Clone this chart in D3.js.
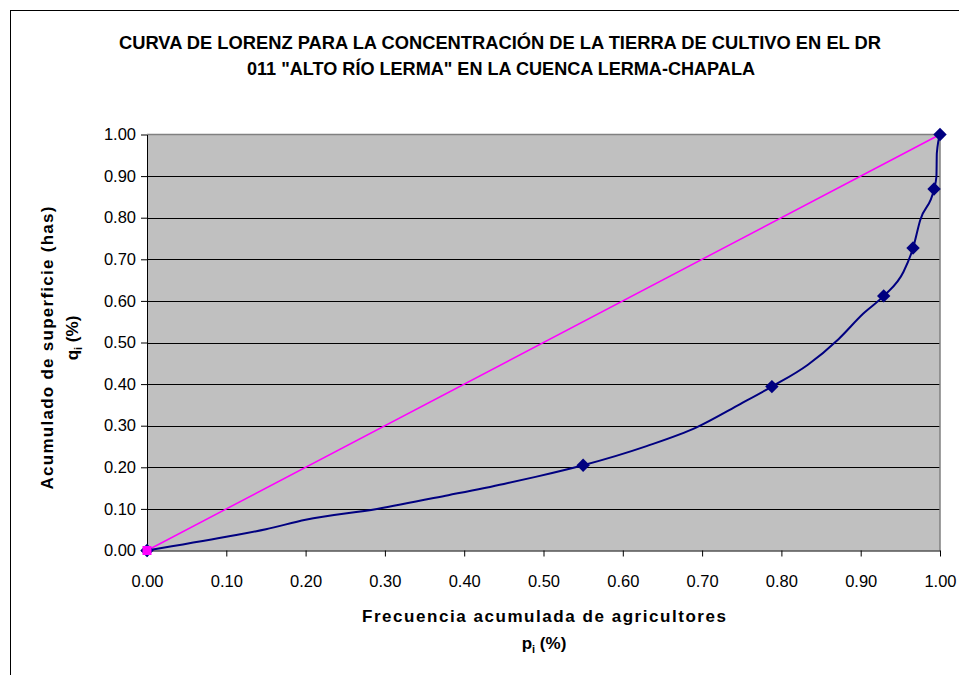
<!DOCTYPE html>
<html>
<head>
<meta charset="utf-8">
<script src="https://cdn.jsdelivr.net/npm/d3@7"></script>
<style>
  html, body { margin: 0; padding: 0; background: #fff; }
  svg { display: block; font-family: "Liberation Sans", Arial, sans-serif; }
</style>
</head>
<body>
<svg id="chart" width="959" height="675"></svg>
<script>
// Lorenz curve: cumulative share of farmers (p) vs cumulative share of land (q)
const curveP = [0, 0.10, 0.15, 0.20, 0.29, 0.38, 0.45, 0.49, 0.55, 0.63, 0.693, 0.748, 0.788, 0.833, 0.872, 0.903, 0.929, 0.954, 0.966, 0.975, 0.9925, 0.9955, 0.996, 1];
const curveQ = [0, 0.033, 0.051, 0.074, 0.10, 0.133, 0.16, 0.177, 0.205, 0.251, 0.296, 0.352, 0.394, 0.446, 0.508, 0.569, 0.612, 0.670, 0.727, 0.794, 0.869, 0.899, 0.955, 1];

// Points shown with a marker on the curve
const markerP = [0, 0.55, 0.788, 0.929, 0.966, 0.9925, 1];
const markerQ = [0, 0.205, 0.394, 0.612, 0.727, 0.869, 1];

// Line of perfect equality
const equalityP = [0, 1];
const equalityQ = [0, 1];

const tickValues = [0, 0.1, 0.2, 0.3, 0.4, 0.5, 0.6, 0.7, 0.8, 0.9, 1.0];

const titleLines = [
  "CURVA DE LORENZ PARA LA CONCENTRACIÓN DE LA TIERRA DE CULTIVO EN EL DR",
  "011 \"ALTO RÍO LERMA\" EN LA CUENCA LERMA-CHAPALA"
];

const svg = d3.select("#chart");

// outer chart frame
svg.append("rect")
  .attr("x", 10.5).attr("y", 10.5)
  .attr("width", 970).attr("height", 700)
  .attr("fill", "#fff").attr("stroke", "#000").attr("stroke-width", 1);

const plot = { left: 147, right: 940, top: 134.5, bottom: 550.5 };

const x = d3.scaleLinear().domain([0, 1]).range([plot.left, plot.right]);
const y = d3.scaleLinear().domain([0, 1]).range([plot.bottom, plot.top]);

// plot area background
svg.append("rect")
  .attr("x", plot.left).attr("y", plot.top)
  .attr("width", plot.right - plot.left).attr("height", plot.bottom - plot.top)
  .attr("fill", "#C0C0C0");

// horizontal gridlines
svg.append("g")
  .selectAll("line")
  .data(tickValues.filter(v => v > 0 && v < 1))
  .join("line")
  .attr("x1", plot.left).attr("x2", plot.right)
  .attr("y1", d => Math.round(y(d)) + 0.5).attr("y2", d => Math.round(y(d)) + 0.5)
  .attr("stroke", "#000").attr("stroke-width", 1);

// plot area border (top and right)
svg.append("path")
  .attr("d", `M${plot.left},${plot.top} H${plot.right} V${plot.bottom}`)
  .attr("fill", "none").attr("stroke", "#808080").attr("stroke-width", 1.5);

// axes
const fmt = d3.format(".2f");
const xAxis = svg.append("g")
  .attr("transform", `translate(0,${plot.bottom})`)
  .call(d3.axisBottom(x).tickValues(tickValues).tickFormat(fmt).tickSizeInner(6).tickSizeOuter(0));
const yAxis = svg.append("g")
  .attr("transform", `translate(${plot.left},0)`)
  .call(d3.axisLeft(y).tickValues(tickValues).tickFormat(fmt).tickSizeInner(6).tickSizeOuter(0).tickPadding(5));

[xAxis, yAxis].forEach(g => {
  g.select(".domain").attr("stroke", "#000").attr("stroke-width", 1);
  g.selectAll(".tick line").attr("stroke", "#000");
  g.selectAll(".tick text")
    .attr("font-family", "'Liberation Sans', Arial, sans-serif")
    .attr("font-size", 16.5).attr("fill", "#000");
});
xAxis.selectAll(".tick text").attr("dy", "0.35em").attr("y", 31);

// line of equality
svg.append("path")
  .datum(equalityP.map((p, i) => [p, equalityQ[i]]))
  .attr("d", d3.line().x(d => x(d[0])).y(d => y(d[1])))
  .attr("fill", "none").attr("stroke", "#FF00FF").attr("stroke-width", 1.5);

// Lorenz curve
svg.append("path")
  .datum(curveP.map((p, i) => [p, curveQ[i]]))
  .attr("d", d3.line().curve(d3.curveMonotoneX).x(d => x(d[0])).y(d => y(d[1])))
  .attr("fill", "none").attr("stroke", "#000080").attr("stroke-width", 2);

// diamond markers on the curve
svg.append("g")
  .selectAll("path")
  .data(markerP.map((p, i) => [p, markerQ[i]]))
  .join("path")
  .attr("d", d3.symbol(d3.symbolSquare, 90))
  .attr("transform", d => `translate(${x(d[0])},${y(d[1])}) rotate(45)`)
  .attr("fill", "#000080");

// square marker at the origin of the equality line
svg.append("rect")
  .attr("x", x(equalityP[0]) - 4.5).attr("y", y(equalityQ[0]) - 4.5)
  .attr("width", 9).attr("height", 9)
  .attr("fill", "#FF00FF");

// title
const title = svg.append("g")
  .attr("font-weight", "bold").attr("font-size", 17.5).attr("text-anchor", "middle");
title.append("text").attr("x", 500).attr("y", 49)
  .attr("textLength", 762).attr("lengthAdjust", "spacingAndGlyphs").text(titleLines[0]);
title.append("text").attr("x", 501).attr("y", 75)
  .attr("textLength", 508).attr("lengthAdjust", "spacingAndGlyphs").text(titleLines[1]);

// x axis title
const xt = svg.append("g").attr("font-weight", "bold").attr("font-size", 17).attr("text-anchor", "middle");
xt.append("text").attr("x", 544).attr("y", 622)
  .attr("textLength", 364).attr("lengthAdjust", "spacing").text("Frecuencia acumulada de agricultores");
const xt2 = xt.append("text").attr("x", 544).attr("y", 649);
xt2.append("tspan").text("p");
xt2.append("tspan").attr("font-size", 11).attr("dy", 4).text("i");
xt2.append("tspan").attr("dy", -4).text(" (%)");

// y axis title
const yt = svg.append("g").attr("font-weight", "bold").attr("font-size", 17).attr("text-anchor", "middle");
yt.append("text").attr("transform", "translate(53,348) rotate(-90)")
  .attr("textLength", 283).attr("lengthAdjust", "spacing").text("Acumulado de superficie (has)");
const yt2 = yt.append("text").attr("transform", "translate(78,338) rotate(-90)");
yt2.append("tspan").text("q");
yt2.append("tspan").attr("font-size", 11).attr("dy", 4).text("i");
yt2.append("tspan").attr("dy", -4).text(" (%)");
</script>
</body>
</html>
